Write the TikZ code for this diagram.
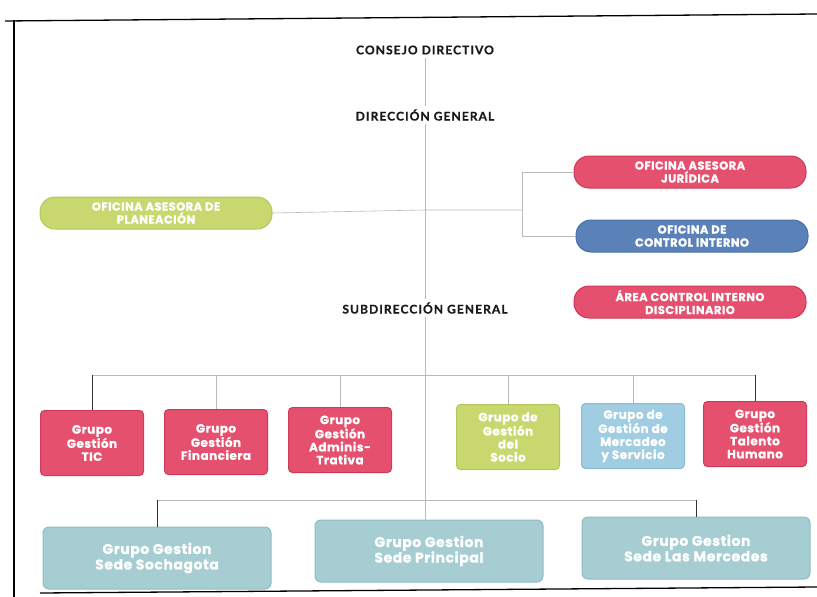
\documentclass[tikz,border=0pt]{standalone}
\usepackage{fontspec}
\setmainfont{Lato}
\newfontfamily\titlefont[LetterSpace=9, FakeBold=0.8]{Lato}
\newfontfamily\boxfont[LetterSpace=4, FakeBold=1]{Poppins}
\definecolor{pinkf}{HTML}{E4506E}
\definecolor{pinkd}{HTML}{D03A5A}
\definecolor{greenf}{HTML}{C8D76E}
\definecolor{greend}{HTML}{B5C55A}
\definecolor{bluef}{HTML}{5A82B9}
\definecolor{blued}{HTML}{4A70A5}
\definecolor{lbluef}{HTML}{A0CDE1}
\definecolor{lblued}{HTML}{8ABCD2}
\definecolor{tealf}{HTML}{A5CDD2}
\definecolor{teald}{HTML}{90BCC2}
\begin{document}
\begin{tikzpicture}[x=1pt,y=-1pt,
  title/.style={font=\titlefont\bfseries\fontsize{12}{13}\selectfont, text=black!90, inner sep=3pt},
  pill/.style={rounded corners=15pt, line width=1pt, minimum width=232pt, minimum height=32pt,
    align=center, text=white, inner sep=1pt, font=\boxfont\bfseries\fontsize{11.5}{13}\selectfont},
  grp/.style={rounded corners=4pt, line width=1pt, minimum width=103pt, minimum height=65pt,
    align=center, text=white, inner sep=1pt, font=\boxfont\bfseries\fontsize{12}{13}\selectfont},
  sede/.style={rounded corners=6pt, line width=1pt, minimum width=228pt, minimum height=62pt,
    align=center, text=white, inner sep=1pt, font=\boxfont\bfseries\fontsize{14}{15.5}\selectfont,
    fill=tealf, draw=teald},
  pinkbox/.style={fill=pinkf, draw=pinkd},
  link/.style={draw=gray!55, line width=0.6pt},
  dlink/.style={draw=black!80, line width=0.8pt},
  frame/.style={draw=black, line width=1.3pt}
]
\useasboundingbox (0,0) rectangle (817,597);
% frame
\draw[frame] (5,21) -- (817,14);
\draw[frame] (14,20) -- (14,597);
\draw[frame] (40,593) -- (817,587);

% titles
\node[title] (consejo) at (425,50) {CONSEJO DIRECTIVO};
\node[title] (direccion) at (425,115) {DIRECCIÓN GENERAL};
\node[title] (subdir) at (425,308) {SUBDIRECCIÓN GENERAL};

% pills
\node[pill, fill=greenf, draw=greend] (planeacion) at (156,213) {OFICINA ASESORA DE\\PLANEACIÓN};
\node[pill, pinkbox] (juridica) at (690,172) {OFICINA ASESORA\\JURÍDICA};
\node[pill, fill=bluef, draw=blued] (control) at (692,236) {OFICINA DE\\CONTROL INTERNO};
\node[pill, pinkbox] (area) at (690,302) {ÁREA CONTROL INTERNO\\DISCIPLINARIO};

% groups
\node[grp, pinkbox] (tic) at (92,443) {Grupo\\Gestión\\TIC};
\node[grp, pinkbox] (fin) at (216,442) {Grupo\\Gestión\\Financiera};
\node[grp, pinkbox] (adm) at (340,440) {Grupo\\Gestión\\Adminis-\\Trativa};
\node[grp, fill=greenf, draw=greend] (socio) at (508,437) {Grupo de\\Gestión\\del\\Socio};
\node[grp, fill=lbluef, draw=lblued] (merc) at (633,436) {Grupo de\\Gestión de\\Mercadeo\\y Servicio};
\node[grp, pinkbox] (tal) at (755,434) {Grupo\\Gestión\\Talento\\Humano};

% sedes
\node[sede] (soch) at (157,558) {Grupo Gestion\\Sede Sochagota};
\node[sede] (prin) at (429,551) {Grupo Gestion\\Sede Principal};
\node[sede] (merced) at (696,548) {Grupo Gestion\\Sede Las Mercedes};

% coordinates
\coordinate (hub) at (425,210);
\coordinate (bx) at (522,210);
\coordinate (rowbar) at (425,375);
\coordinate (botbar) at (425,500);

% trunk
\draw[link] (consejo) -- (direccion);
\draw[link] (direccion) -- (subdir);
\draw[link] (subdir.south) -- (subdir.south |- prin.north);

% staff offices
\draw[link] (planeacion.east) -- (hub) -- (bx);
\draw[dlink] (bx |- juridica.west) -- (bx |- control.west);
\draw[link] (bx) |- (juridica.west);
\draw[link] (bx) |- (control.west);

% group row
\draw[link] (tic.north |- rowbar) -- (tal.north |- rowbar);
\draw[dlink] (tic.north) -- (tic.north |- rowbar);
\draw[link] (fin.north) -- (fin.north |- rowbar);
\draw[link] (adm.north) -- (adm.north |- rowbar);
\draw[link] (socio.north) -- (socio.north |- rowbar);
\draw[link] (merc.north) -- (merc.north |- rowbar);
\draw[dlink] (tal.north) -- (tal.north |- rowbar);

% sede row
\draw[link] (soch.north |- botbar) -- (merced.north |- botbar);
\draw[dlink] (soch.north) -- (soch.north |- botbar);
\draw[dlink] (merced.north) -- (merced.north |- botbar);
\end{tikzpicture}
\end{document}
